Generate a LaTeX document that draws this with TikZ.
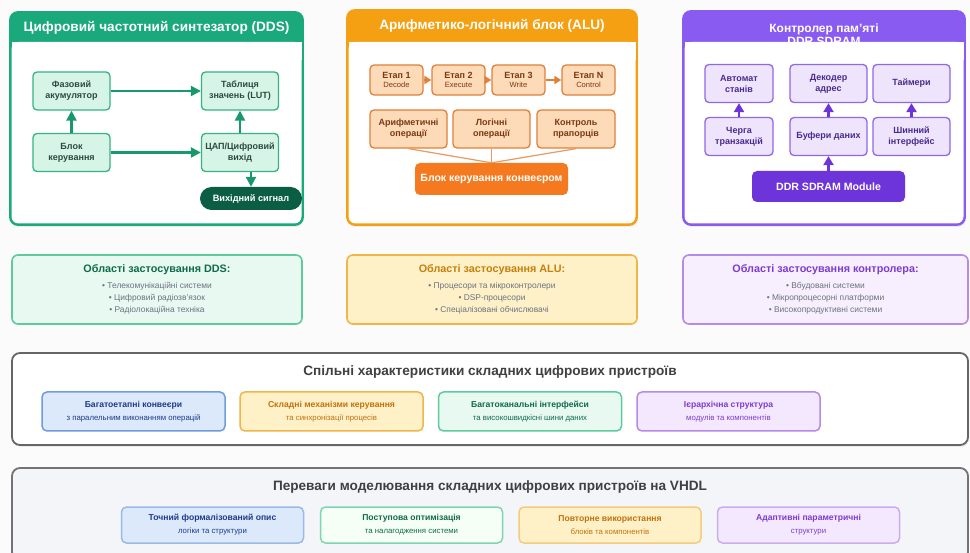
\documentclass[tikz,border=0pt]{standalone}
\usepackage{fontspec}
\setmainfont{Liberation Sans}
\usetikzlibrary{arrows.meta,shadows}
% panel colours
\definecolor{ddsmain}{HTML}{1AA97B}
\definecolor{ddsdark}{HTML}{0B5E43}
\definecolor{ddsfill}{HTML}{D6F5E7}
\definecolor{ddsline}{HTML}{35B384}
\definecolor{ddstext}{HTML}{2C4A3D}
\definecolor{alumain}{HTML}{F4A012}
\definecolor{alufill}{HTML}{FDDAB8}
\definecolor{aluline}{HTML}{E0803A}
\definecolor{aluctl}{HTML}{F57A1F}
\definecolor{alutext}{HTML}{7A3A12}
\definecolor{ddrmain}{HTML}{8A5BF0}
\definecolor{ddrfill}{HTML}{EEE5FD}
\definecolor{ddrline}{HTML}{9366E8}
\definecolor{ddrmod}{HTML}{6D34D9}
\definecolor{ddrtext}{HTML}{4B2A8C}
% lower boxes
\definecolor{bgcol}{HTML}{FBFBFB}
\definecolor{bullcol}{HTML}{6B7280}
\definecolor{bluefill}{HTML}{DCE9FB}
\definecolor{blueline}{HTML}{6F9BE0}
\definecolor{bluetext}{HTML}{1E3A8A}
\definecolor{yelfill}{HTML}{FEF1C8}
\definecolor{yelline}{HTML}{F2B54A}
\definecolor{yeltext}{HTML}{C2710C}
\definecolor{grnfill}{HTML}{E8F9F1}
\definecolor{grnline}{HTML}{5ECB9F}
\definecolor{grntext}{HTML}{0F6B4B}
\definecolor{purfill}{HTML}{F3E8FE}
\definecolor{purline}{HTML}{B58AE8}
\definecolor{purtext}{HTML}{7E3BD0}
\definecolor{advfill}{HTML}{F3F5F8}
\tikzset{
  hdr/.style={text=white,font=\bfseries\fontsize{13.6}{13}\selectfont},
  ddsn/.style={draw=ddsline,fill=ddsfill,line width=1.3pt,rounded corners=4pt,minimum width=77pt,minimum height=38pt,align=center,text=ddstext,font=\bfseries\fontsize{9}{11}\selectfont},
  ddsarr/.style={draw=ddsmain!90!black,line width=2.2pt,-{Triangle[length=10pt,width=10pt]}},
  alun/.style={draw=aluline,fill=alufill,line width=1.3pt,rounded corners=4pt,align=center,text=alutext,font=\bfseries\fontsize{9}{11}\selectfont},
  aluarr/.style={draw=aluline,line width=1.8pt,-{Triangle[length=7pt,width=8pt]}},
  ddrn/.style={draw=ddrline,fill=ddrfill,line width=1.3pt,rounded corners=4pt,minimum height=38pt,align=center,text=ddrtext,font=\bfseries\fontsize{9}{11}\selectfont},
  ddrarr/.style={draw=ddrmod,line width=2.2pt,-{Triangle[length=9pt,width=10pt]}},
  appbox/.style={line width=1.6pt,rounded corners=6pt,minimum width=290pt,minimum height=69pt},
  apptitle/.style={font=\bfseries\fontsize{10.8}{12}\selectfont},
  applist/.style={text=bullcol,align=center,font=\fontsize{8.4}{12}\selectfont},
  featbox/.style={line width=1.5pt,rounded corners=5pt,minimum width=183pt,minimum height=39pt,align=center,font=\fontsize{8.6}{13}\selectfont},
  bigtitle/.style={text=black!75,font=\bfseries\fontsize{13.6}{15}\selectfont}
}
\begin{document}
\begin{tikzpicture}[x=1pt,y=-1pt]
\useasboundingbox[fill=bgcol] (0,0) rectangle (970,553);

% DDS panel
\fill[ddsmain,rounded corners=8pt,drop shadow={opacity=0.12,shadow xshift=1pt,shadow yshift=-2pt}] (10,12) rectangle (303,225);
\fill[white,rounded corners=7pt] (11.5,42) rectangle (301.5,223.5);
\fill[white] (11.5,42) rectangle (301.5,60);
\draw[ddsmain,line width=1.8pt,rounded corners=8pt] (10,12) rectangle (303,225);
\node[hdr] (ddstitle) at (156.5,28) {Цифровий частотний синтезатор (DDS)};
\node[ddsn] (phase) at (71.5,91) {Фазовий\\акумулятор};
\node[ddsn] (lut) at (240,91) {Таблиця\\значень (LUT)};
\node[ddsn] (ctrl) at (71.5,152.5) {Блок\\керування};
\node[ddsn] (dac) at (240,152.5) {ЦАП/Цифровий\\вихід};
\node[fill=ddsdark,rounded corners=11.5pt,minimum width=102pt,minimum height=23pt,text=white,font=\bfseries\fontsize{9.2}{10}\selectfont] (sig) at (251,198.5) {Вихідний сигнал};
\draw[ddsarr] (phase) -- (lut);
\draw[ddsarr] (ctrl) -- (phase);
\draw[ddsarr] (ctrl) -- (dac);
\draw[ddsarr] (dac) -- (lut);
\draw[ddsarr] (dac.south -| sig.north) -- (sig.north);

% ALU panel
\fill[alumain,rounded corners=8pt,drop shadow={opacity=0.12,shadow xshift=1pt,shadow yshift=-2pt}] (347,10) rectangle (637,225);
\fill[white,rounded corners=7pt] (348.5,42) rectangle (635.5,223.5);
\fill[white] (348.5,42) rectangle (635.5,60);
\draw[alumain,line width=1.8pt,rounded corners=8pt] (347,10) rectangle (637,225);
\node[hdr] (alutitle) at (492,26) {Арифметико-логічний блок (ALU)};
\node[alun,minimum width=53pt,minimum height=30pt] (st1) at (396.5,80) {Етап 1\\[-2pt]{\mdseries\fontsize{7.6}{8}\selectfont Decode}};
\node[alun,minimum width=53pt,minimum height=30pt] (st2) at (458.5,80) {Етап 2\\[-2pt]{\mdseries\fontsize{7.6}{8}\selectfont Execute}};
\node[alun,minimum width=53pt,minimum height=30pt] (st3) at (518.5,80) {Етап 3\\[-2pt]{\mdseries\fontsize{7.6}{8}\selectfont Write}};
\node[alun,minimum width=53pt,minimum height=30pt] (stn) at (588.5,80) {Етап N\\[-2pt]{\mdseries\fontsize{7.6}{8}\selectfont Control}};
\draw[aluarr] (st1) -- (st2);
\draw[aluarr] (st2) -- (st3);
\draw[aluarr] (st3) -- (stn);
\node[alun,minimum width=77pt,minimum height=38pt] (arith) at (408.5,129) {Арифметичні\\операції};
\node[alun,minimum width=77pt,minimum height=38pt] (logic) at (491.5,129) {Логічні\\операції};
\node[alun,minimum width=78pt,minimum height=38pt] (flags) at (576,129) {Контроль\\прапорців};
\node[fill=aluctl,rounded corners=5pt,minimum width=153pt,minimum height=32pt,text=white,font=\bfseries\fontsize{10.5}{12}\selectfont] (pipe) at (491.5,179) {Блок керування конвеєром};
\draw[aluline!80,line width=1.2pt] (arith.south) -- (pipe.north);
\draw[aluline!80,line width=1.2pt] (logic.south) -- (pipe.north);
\draw[aluline!80,line width=1.2pt] (flags.south) -- (pipe.north);

% DDR panel
\fill[ddrmain,rounded corners=8pt,drop shadow={opacity=0.12,shadow xshift=1pt,shadow yshift=-2pt}] (683,11) rectangle (965,225);
\node[hdr,align=center,font=\bfseries\fontsize{12}{12.5}\selectfont] (ddrtitle) at (824,34.5) {Контролер пам'яті\\DDR SDRAM};
\fill[white,rounded corners=7pt] (684.5,42) rectangle (963.5,223.5);
\fill[white] (684.5,42) rectangle (963.5,60);
\draw[ddrmain,line width=1.8pt,rounded corners=8pt] (683,11) rectangle (965,225);
\node[ddrn,minimum width=68pt] (fsm) at (739,83.5) {Автомат\\станів};
\node[ddrn,minimum width=77pt] (adec) at (828.5,83.5) {Декодер\\адрес};
\node[ddrn,minimum width=77pt] (timers) at (911.5,83.5) {Таймери};
\node[ddrn,minimum width=68pt] (queue) at (739,136.5) {Черга\\транзакцій};
\node[ddrn,minimum width=77pt] (buffers) at (828.5,136.5) {Буфери даних};
\node[ddrn,minimum width=77pt] (busif) at (911.5,136.5) {Шинний\\інтерфейс};
\node[fill=ddrmod,rounded corners=5pt,minimum width=153pt,minimum height=31pt,text=white,font=\bfseries\fontsize{10.6}{12}\selectfont] (module) at (828.5,186.5) {DDR SDRAM Module};
\draw[ddrarr] (queue) -- (fsm);
\draw[ddrarr] (buffers) -- (adec);
\draw[ddrarr] (busif) -- (timers);
\draw[ddrarr] (module) -- (buffers);

% application areas
\node[appbox,draw=grnline,fill=grnfill] (ddsapp) at (157,289.5) {};
\node[apptitle,text=grntext] (ddsapptitle) at (157,270) {Області застосування DDS:};
\node[applist] (ddsapplist) at (157,298) {• Телекомунікаційні системи\\• Цифровий радіозв'язок\\• Радіолокаційна техніка};
\node[appbox,draw=yelline,fill=yelfill] (aluapp) at (492,289.5) {};
\node[apptitle,text=yeltext!90!yellow] (aluapptitle) at (492,270) {Області застосування ALU:};
\node[applist] (aluapplist) at (492,298) {• Процесори та мікроконтролери\\• DSP-процесори\\• Спеціалізовані обчислювачі};
\node[appbox,draw=purline,fill=purfill!70!white,minimum width=285pt] (ddrapp) at (825.5,289.5) {};
\node[apptitle,text=purtext] (ddrapptitle) at (825.5,270) {Області застосування контролера:};
\node[applist] (ddrapplist) at (825.5,298) {• Вбудовані системи\\• Мікропроцесорні платформи\\• Високопродуктивні системи};

% common features
\node[draw=black!60,fill=white,line width=1.8pt,rounded corners=8pt,minimum width=956pt,minimum height=92pt,drop shadow={opacity=0.12,shadow xshift=1pt,shadow yshift=-2pt}] (common) at (490,399) {};
\node[bigtitle] (commontitle) at (490,372) {Спільні характеристики складних цифрових пристроїв};
\node[featbox,draw=blueline,fill=bluefill,text=bluetext] (feat1) at (133.5,411.5) {\textbf{Багатоетапні конвеєри}\\{\fontsize{7.8}{8}\selectfont з паралельним виконанням операцій}};
\node[featbox,draw=yelline,fill=yelfill,text=yeltext] (feat2) at (331.5,411.5) {\textbf{Складні механізми керування}\\{\fontsize{7.8}{8}\selectfont та синхронізації процесів}};
\node[featbox,draw=grnline,fill=grnfill,text=grntext] (feat3) at (530,411.5) {\textbf{Багатоканальні інтерфейси}\\{\fontsize{7.8}{8}\selectfont та високошвидкісні шини даних}};
\node[featbox,draw=purline,fill=purfill,text=purtext] (feat4) at (728.5,411.5) {\textbf{Ієрархічна структура}\\{\fontsize{7.8}{8}\selectfont модулів та компонентів}};

% VHDL advantages
\node[draw=black!55,fill=advfill,line width=1.8pt,rounded corners=8pt,minimum width=956pt,minimum height=92pt] (adv) at (490,514) {};
\node[bigtitle] (advtitle) at (490,487) {Переваги моделювання складних цифрових пристроїв на VHDL};
\node[featbox,draw=blueline!70,fill=bluefill,text=bluetext,minimum width=182pt,minimum height=36pt] (adv1) at (212.5,525) {\textbf{Точний формалізований опис}\\{\fontsize{7.8}{8}\selectfont логіки та структури}};
\node[featbox,draw=grnline!80,fill=grnfill!70!green!10,text=grntext,minimum width=182pt,minimum height=36pt] (adv2) at (411.5,525) {\textbf{Поступова оптимізація}\\{\fontsize{7.8}{8}\selectfont та налагодження системи}};
\node[featbox,draw=yelline!70,fill=yelfill,text=yeltext,minimum width=182pt,minimum height=36pt] (adv3) at (610,525) {\textbf{Повторне використання}\\{\fontsize{7.8}{8}\selectfont блоків та компонентів}};
\node[featbox,draw=purline!70,fill=purfill,text=purtext,minimum width=182pt,minimum height=36pt] (adv4) at (808.5,525) {\textbf{Адаптивні параметричні}\\{\fontsize{7.8}{8}\selectfont структури}};
\end{tikzpicture}
\end{document}
